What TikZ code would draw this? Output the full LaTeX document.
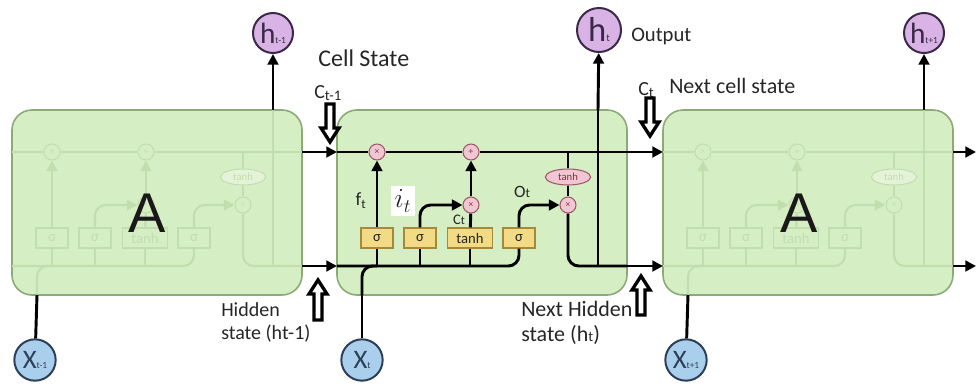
\documentclass[tikz,border=0pt]{standalone}
\usepackage{fontspec}
\setmainfont{Carlito}
\newfontfamily\arialf{Liberation Sans}
\usetikzlibrary{arrows.meta,shapes.geometric}
\definecolor{boxfill}{HTML}{D6EEC4}
\definecolor{boxdraw}{HTML}{8BAA78}
\definecolor{ghost}{HTML}{C2DEAE}
\definecolor{ghostell}{HTML}{E4F3D8}
\definecolor{gatefill}{HTML}{F0C6D2}
\definecolor{gatedraw}{HTML}{9A5A6A}
\definecolor{gatetext}{HTML}{8A2D40}
\definecolor{sigfill}{HTML}{F3DB86}
\definecolor{sigdraw}{HTML}{A48B3C}
\definecolor{hfill}{HTML}{D9B3E6}
\definecolor{hdraw}{HTML}{3B2A47}
\definecolor{xfill}{HTML}{A9CFEC}
\definecolor{xdraw}{HTML}{2D3E58}
\definecolor{txt}{HTML}{262626}

\newcommand{\cellparts}{%
  \draw[cellbox] (337,110) rectangle (627,295);
  \coordinate (cin) at (337,152);
  \coordinate (cout) at (627,152);
  \coordinate (hin) at (337,266);
  \coordinate (hout) at (627,266);
  \coordinate (xin) at (362,295);
  \coordinate (hup) at (598,110);
  \coordinate (hdn) at (598,266);
  \coordinate (tb) at (568,152);
  \coordinate (hc4) at (519,266);
  \coordinate (hc1) at (377,266);
  \coordinate (hc2) at (420,266);
  \coordinate (hc3) at (470,266);
  \coordinate (xc) at (362,266);
  \node[gate] (fx) at (377,152) {×};
  \node[gate] (pl) at (471,152) {+};
  \node[gate] (ix) at (471,205) {×};
  \node[gate] (ox) at (568,205) {×};
  \node[tanhe] (th) at (568,177) {tanh};
  \node[sig] (s1) at (377,238) {σ};
  \node[sig] (s2) at (420,238) {σ};
  \node[sig, minimum width=34pt] (s3) at (470,238) {tanh};
  \node[sig] (s4) at (519,238) {σ};
  \draw[ln] (cin) -- (fx) -- (pl) -- (cout);
  \draw[ln] (tb) -- (th);
  \draw[ln, rounded corners=8pt] (hin) -- (hc4) -- (s4.south);
  \draw[ln, rounded corners=8pt] (xin) -- (xc) -- (hc1);
  \draw[ln] (hc1) -- (s1.south);
  \draw[ln] (hc2) -- (s2.south);
  \draw[ln] (hc3) -- (s3.south);
  \draw[arr] (s1) -- (fx);
  \draw[arr, rounded corners=8pt] (s2.north) |- (ix.west);
  \draw[ln] (s3) -- (ix);
  \draw[arr] (ix) -- (pl);
  \draw[arr, rounded corners=8pt] (s4.north) |- (ox.west);
  \draw[ln] (th) -- (ox);
  \draw[ln, rounded corners=8pt] (ox.south) |- (hout);
  \draw[ln] (hdn) -- (hup);
}

\newcommand{\hollowdown}[3]{%
  \draw[hollow] ({#1-4},#2) -- ({#1+4},#2) -- ({#1+4},{#3-14}) -- ({#1+9},{#3-14})
    -- (#1,#3) -- ({#1-9},{#3-14}) -- ({#1-4},{#3-14}) -- cycle;}
\newcommand{\hollowup}[3]{%
  \draw[hollow] ({#1-4},#2) -- ({#1+4},#2) -- ({#1+4},{#3+14}) -- ({#1+9},{#3+14})
    -- (#1,#3) -- ({#1-9},{#3+14}) -- ({#1-4},{#3+14}) -- cycle;}

\begin{document}
\begin{tikzpicture}[x=0.75pt,y=-0.75pt,
  ln/.style={draw=black, line width=2.2pt},
  arr/.style={ln, -{Triangle[length=8pt,width=8pt]}},
  gate/.style={circle, draw=gatedraw, fill=gatefill, line width=0.8pt, minimum size=12pt, inner sep=0pt, text=gatetext, font=\fontsize{7}{7}\selectfont},
  sig/.style={rectangle, draw=sigdraw, fill=sigfill, line width=0.8pt, minimum width=24pt, minimum height=15pt, inner sep=0pt, text=txt, font=\fontsize{11}{11}\selectfont},
  tanhe/.style={ellipse, draw=gatedraw, fill=gatefill, line width=0.8pt, minimum width=34pt, minimum height=12pt, inner sep=0pt, text=gatetext, font=\fontsize{8}{8}\selectfont},
  cellbox/.style={draw=boxdraw, fill=boxfill, line width=1.2pt, rounded corners=15pt},
  ghoststyle/.style={
    ln/.style={draw=ghost, line width=1.6pt},
    gate/.style={circle, draw=ghost, fill=boxfill, line width=0.8pt, minimum size=12pt, inner sep=0pt, text=ghost, font=\fontsize{7}{7}\selectfont},
    sig/.style={rectangle, draw=ghost, fill=boxfill, line width=0.8pt, minimum width=24pt, minimum height=15pt, inner sep=0pt, text=ghost, font=\fontsize{11}{11}\selectfont},
    tanhe/.style={ellipse, draw=ghost, fill=ghostell, line width=0.8pt, minimum width=34pt, minimum height=12pt, inner sep=0pt, text=ghost, font=\fontsize{8}{8}\selectfont}},
  hnode/.style={circle, draw=hdraw, fill=hfill, line width=1.5pt, minimum size=30pt, inner sep=0pt, text=hdraw},
  xnode/.style={circle, draw=xdraw, fill=xfill, line width=1.5pt, minimum size=31pt, inner sep=0pt, text=xdraw},
  bigA/.style={font=\arialf\fontsize{42}{42}\selectfont, text=black!90, inner sep=0pt},
  lbl/.style={text=txt, inner sep=0pt},
  hollow/.style={draw=black, fill=white, line width=2.5pt, line join=miter}
]
\useasboundingbox (0,0) rectangle (976,386);

\begin{scope}[shift={(-325,0)}, name prefix=gl-, ghoststyle]
  \cellparts
\end{scope}
\begin{scope}[shift={(326,0)}, name prefix=gr-, ghoststyle]
  \cellparts
\end{scope}
\cellparts

\node[bigA] (AL) at (147,213) {A};
\node[bigA] (AR) at (799,213) {A};

% outputs and inputs
\node[hnode] (hl) at (273,33) {{\fontsize{22}{22}\selectfont h}{\fontsize{7}{7}\selectfont t-1}};
\node[hnode, minimum size=33pt] (ht) at (599,30) {{\fontsize{26}{26}\selectfont h}{\fontsize{8}{8}\selectfont t}};
\node[hnode] (hr) at (924,33) {{\fontsize{22}{22}\selectfont h}{\fontsize{7}{7}\selectfont t+1}};
\node[xnode] (xl) at (35,360) {{\fontsize{20}{20}\selectfont X}{\fontsize{7}{7}\selectfont t-1}};
\node[xnode] (xt) at (362,360) {{\fontsize{20}{20}\selectfont X}{\fontsize{7}{7}\selectfont t}};
\node[xnode] (xr) at (686,360) {{\fontsize{20}{20}\selectfont X}{\fontsize{7}{7}\selectfont t+1}};

\draw[arr] (gl-hup) -- (hl);
\draw[arr] (hup) -- (ht);
\draw[arr] (gr-hup) -- (hr);
\draw[ln] (xl) -- (gl-xin);
\draw[ln] (xt) -- (xin);
\draw[ln] (xr) -- (gr-xin);

\coordinate (endc) at (976,152);
\coordinate (endh) at (976,266);
\draw[arr] (gl-cout) -- (cin);
\draw[arr] (gl-hout) -- (hin);
\draw[arr] (cout) -- (gr-cin);
\draw[arr] (hout) -- (gr-hin);
\draw[arr] (gr-cout) -- (endc);
\draw[arr] (gr-hout) -- (endh);

% inner labels
\node[lbl, font=\fontsize{14}{14}\selectfont] (ftl) at (361,201) {$\mathrm{f}_{\mathrm{t}}$};
\node[lbl, fill=white, inner sep=3pt, font=\fontsize{20}{20}\selectfont] (itl) at (403,201) {$i_t$};
\node[lbl, font=\fontsize{13}{13}\selectfont] (otl) at (522,192) {O{\fontsize{10}{10}\selectfont t}};
\node[lbl, font=\fontsize{11}{11}\selectfont] (ctl) at (459,220) {C{\fontsize{9}{9}\selectfont t}};

% outer labels
\node[lbl, anchor=base west, font=\fontsize{18}{18}\selectfont] (cs) at (318,66) {Cell State};
\node[lbl, anchor=base west, font=\fontsize{15}{15}\selectfont] (cprev) at (314,98) {C\raisebox{-1.5pt}{\fontsize{11}{11}\selectfont t-1}};
\node[lbl, anchor=base west, font=\fontsize{15}{15}\selectfont] (cnow) at (638,95) {C\raisebox{-1.5pt}{\fontsize{11}{11}\selectfont t}};
\node[lbl, anchor=base west, font=\fontsize{16.5}{16.5}\selectfont] (ncs) at (669,93) {Next cell state};
\node[lbl, anchor=base west, font=\fontsize{15.5}{15.5}\selectfont] (outl) at (631,41) {Output};
\node[lbl, anchor=north west, align=left, font=\fontsize{15}{17.5}\selectfont] (hsl) at (221,302) {Hidden\\state (ht-1)};
\node[lbl, anchor=north west, align=left, font=\fontsize{16.5}{19}\selectfont] (nhs) at (521,301) {Next Hidden\\state (h{\fontsize{11}{11}\selectfont t})};

% hollow arrows
\hollowdown{330}{104}{142}
\hollowdown{650}{98}{136}
\hollowup{318}{320}{280}
\hollowup{641}{315}{276}
\end{tikzpicture}
\end{document}
